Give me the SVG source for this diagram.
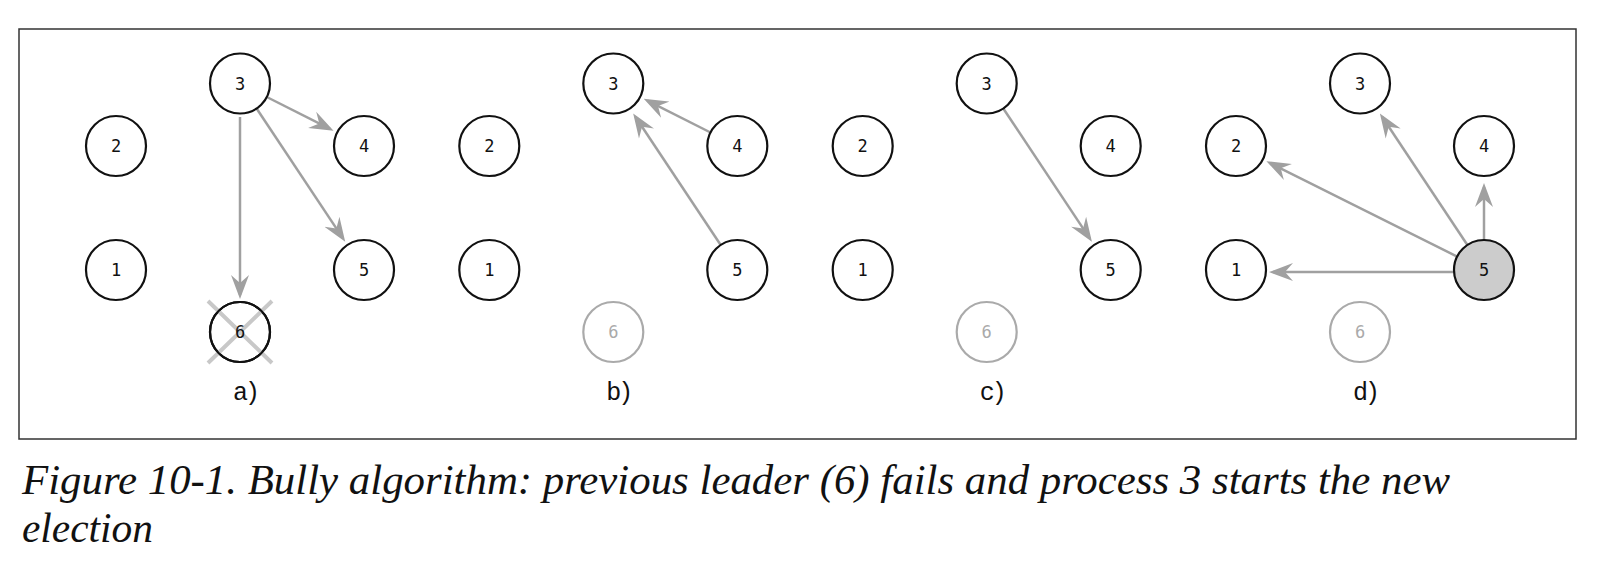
<svg xmlns="http://www.w3.org/2000/svg" width="1602" height="582" viewBox="0 0 1602 582">
<style>
.n circle{fill:#fff;stroke:#111;stroke-width:2.2}
.n text{font-family:"DejaVu Sans Mono","Liberation Mono",monospace;font-size:17px;fill:#111;text-anchor:middle}
.g circle{fill:#fff;stroke:#aaa;stroke-width:2.2}
.g text{fill:#aaa}
.lead circle{fill:#cccccc}
.e line{stroke:#a0a0a0;stroke-width:2.5;fill:none;marker-end:url(#ah)}
.lbl{font-family:"Liberation Mono","DejaVu Sans Mono",monospace;font-size:25px;fill:#111;text-anchor:middle;letter-spacing:-3px}
.cap{font-family:"Liberation Serif","DejaVu Serif",serif;font-style:italic;font-size:43px;fill:#111}
</style>
<defs>
<marker id="ah" viewBox="0 0 24 20" refX="20" refY="10" markerWidth="24" markerHeight="20" markerUnits="userSpaceOnUse" orient="auto">
<path d="M0,1 L24,10 L0,19 L8,10 Z" fill="#a0a0a0"/>
</marker>
</defs>
<rect x="19" y="29" width="1557" height="410" fill="#fff" stroke="#333" stroke-width="1.5"/>

<g id="connectors" class="e">
<line x1="266.8" y1="97" x2="330" y2="128.9"/>
<line x1="256.6" y1="108.5" x2="343" y2="238.4"/>
<line x1="240" y1="117" x2="240" y2="295"/>
<line x1="710.5" y1="132.5" x2="647.3" y2="100.6"/>
<line x1="720.7" y1="245" x2="635.4" y2="116.8"/>
<line x1="1003.3" y1="108.5" x2="1089.7" y2="238.4"/>
<line x1="1484" y1="240" x2="1484" y2="187"/>
<line x1="1467.4" y1="245" x2="1382.1" y2="116.8"/>
<line x1="1457.2" y1="256.6" x2="1270" y2="163"/>
<line x1="1454" y1="272" x2="1273" y2="272"/>
</g>

<g id="panel-a">
<g id="a-n2" class="n"><circle cx="116" cy="146" r="30"/><text x="116" y="152">2</text></g>
<g id="a-n1" class="n"><circle cx="116" cy="270" r="30"/><text x="116" y="276">1</text></g>
<g id="a-n3" class="n"><circle cx="240" cy="83.5" r="30"/><text x="240" y="89.5">3</text></g>
<g id="a-n4" class="n"><circle cx="364" cy="146" r="30"/><text x="364" y="152">4</text></g>
<g id="a-n5" class="n"><circle cx="364" cy="270" r="30"/><text x="364" y="276">5</text></g>
<g id="a-n6" class="n"><circle cx="240" cy="332" r="30"/>
<path d="M208,301 L272,363 M272,301 L208,363" stroke="#c8c8c8" stroke-width="4" fill="none"/>
<circle cx="240" cy="332" r="30" style="fill:none"/><text x="240" y="338">6</text></g>
<text class="lbl" x="245" y="400">a)</text>
</g>

<g id="panel-b">
<g id="b-n2" class="n"><circle cx="489.3" cy="146" r="30"/><text x="489.3" y="152">2</text></g>
<g id="b-n1" class="n"><circle cx="489.3" cy="270" r="30"/><text x="489.3" y="276">1</text></g>
<g id="b-n3" class="n"><circle cx="613.3" cy="83.5" r="30"/><text x="613.3" y="89.5">3</text></g>
<g id="b-n4" class="n"><circle cx="737.3" cy="146" r="30"/><text x="737.3" y="152">4</text></g>
<g id="b-n5" class="n"><circle cx="737.3" cy="270" r="30"/><text x="737.3" y="276">5</text></g>
<g id="b-n6" class="n g"><circle cx="613.3" cy="332" r="30"/><text x="613.3" y="338">6</text></g>
<text class="lbl" x="618.3" y="400">b)</text>
</g>

<g id="panel-c">
<g id="c-n2" class="n"><circle cx="862.7" cy="146" r="30"/><text x="862.7" y="152">2</text></g>
<g id="c-n1" class="n"><circle cx="862.7" cy="270" r="30"/><text x="862.7" y="276">1</text></g>
<g id="c-n3" class="n"><circle cx="986.7" cy="83.5" r="30"/><text x="986.7" y="89.5">3</text></g>
<g id="c-n4" class="n"><circle cx="1110.7" cy="146" r="30"/><text x="1110.7" y="152">4</text></g>
<g id="c-n5" class="n"><circle cx="1110.7" cy="270" r="30"/><text x="1110.7" y="276">5</text></g>
<g id="c-n6" class="n g"><circle cx="986.7" cy="332" r="30"/><text x="986.7" y="338">6</text></g>
<text class="lbl" x="991.7" y="400">c)</text>
</g>

<g id="panel-d">
<g id="d-n2" class="n"><circle cx="1236" cy="146" r="30"/><text x="1236" y="152">2</text></g>
<g id="d-n1" class="n"><circle cx="1236" cy="270" r="30"/><text x="1236" y="276">1</text></g>
<g id="d-n3" class="n"><circle cx="1360" cy="83.5" r="30"/><text x="1360" y="89.5">3</text></g>
<g id="d-n4" class="n"><circle cx="1484" cy="146" r="30"/><text x="1484" y="152">4</text></g>
<g id="d-n5" class="n lead"><circle cx="1484" cy="270" r="30"/><text x="1484" y="276">5</text></g>
<g id="d-n6" class="n g"><circle cx="1360" cy="332" r="30"/><text x="1360" y="338">6</text></g>
<text class="lbl" x="1365" y="400">d)</text>
</g>

<text class="cap" x="22" y="494" textLength="1428" lengthAdjust="spacingAndGlyphs">Figure 10-1. Bully algorithm: previous leader (6) fails and process 3 starts the new</text>
<text class="cap" x="22" y="542" textLength="131" lengthAdjust="spacingAndGlyphs">election</text>
</svg>
